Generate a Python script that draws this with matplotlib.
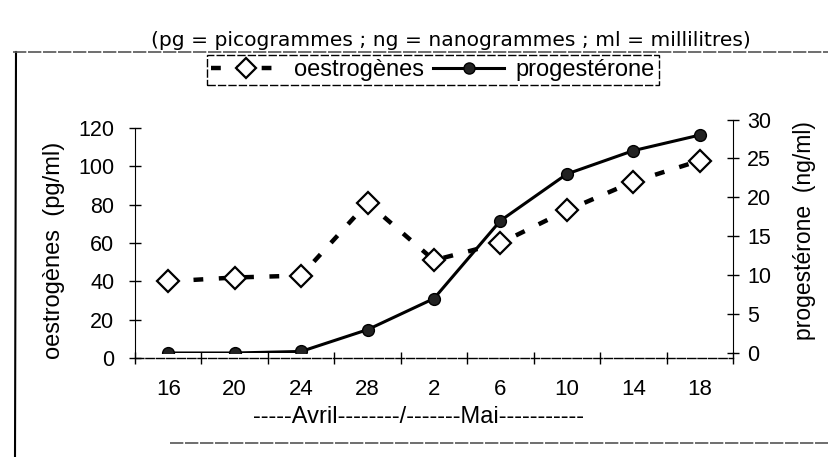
import matplotlib
matplotlib.use("Agg")
import matplotlib.pyplot as plt
from matplotlib.lines import Line2D

categories = ["16", "20", "24", "28", "2", "6", "10", "14", "18"]
oestrogenes = [40, 42, 43, 81, 51, 60, 77, 92, 103]
progesterone = [0, 0, 0.2, 3, 7, 17, 23, 26, 28]
left_ticks = [0, 20, 40, 60, 80, 100, 120]
right_ticks = [0, 5, 10, 15, 20, 25, 30]

plt.rcParams['font.family'] = ['Liberation Sans', 'DejaVu Sans']

W, H = 829, 457
fig = plt.figure(figsize=(W / 100, H / 100), dpi=100)

ax = fig.add_axes([135 / W, 1 - 358 / H, (733 - 135) / W, (358 - 128) / H])
ax2 = fig.add_axes([135 / W, 1 - 353 / H, (733 - 135) / W, (353 - 119.5) / H], sharex=ax)
ax2.patch.set_visible(False)
ax2.yaxis.tick_right()
ax2.yaxis.set_label_position('right')

x = list(range(len(categories)))

ax.plot(x, oestrogenes, color='black', lw=3.2, linestyle=(0, (2.2, 3.5)),
        marker='D', markersize=11.5, markerfacecolor='white', markeredgecolor='black',
        markeredgewidth=1.6, zorder=3)
ax2.plot(x, progesterone, color='black', lw=2.2, marker='o', markersize=8.5,
         markerfacecolor='#222222', markeredgecolor='black', zorder=4)

ax.set_xlim(-0.5, len(categories) - 0.5)
ax.set_ylim(0, 120)
ax2.set_ylim(0, 30)
ax.set_yticks(left_ticks)
ax2.set_yticks(right_ticks)

# category boundaries as ticks, labels at centres
ax.set_xticks([i - 0.5 for i in range(len(categories) + 1)])
ax.set_xticklabels([])
ax.set_xticks(x, minor=True)
ax.set_xticklabels(categories, minor=True)
ax.tick_params(axis='x', which='major', direction='inout', length=8, width=1)
ax.tick_params(axis='x', which='minor', length=0, pad=15, labelsize=16)
ax.tick_params(axis='y', direction='inout', length=8, width=1, labelsize=15.5, pad=11)
ax2.tick_params(axis='y', direction='inout', length=8, width=1, labelsize=15.5, pad=6)
ax2.tick_params(axis='x', which='both', bottom=False, labelbottom=False)

for sp in ('top', 'right'):
    ax.spines[sp].set_visible(False)
for sp in ('top', 'left', 'bottom'):
    ax2.spines[sp].set_visible(False)
ax.spines['bottom'].set_linestyle((0, (6, 1.5)))
ax.spines['bottom'].set_linewidth(1)

fig.text(54 / W, 1 - 250 / H, "oestrogènes  (pg/ml)", rotation=90,
         ha='center', va='center', fontsize=17)
fig.text(805 / W, 1 - 231 / H, "progestérone  (ng/ml)", rotation=90,
         ha='center', va='center', fontsize=16.5)
fig.text(419 / W, 1 - 417 / H, "-----Avril--------/-------Mai-----------",
         ha='center', va='center', fontsize=17)

fig.text(451 / W, 1 - 40 / H, "(pg = picogrammes ; ng = nanogrammes ; ml = millilitres)",
         ha='center', va='center', fontsize=14.6, family=['DejaVu Sans'])

# outer frame lines
fig.add_artist(Line2D([15 / W, 16 / W], [0, 1 - 52 / H], transform=fig.transFigure,
                      color='black', lw=1.5))
fig.add_artist(Line2D([13 / W, 1], [1 - 52 / H, 1 - 52 / H], transform=fig.transFigure,
                      color='#555555', lw=1.2, linestyle=(0, (8, 1))))
fig.add_artist(Line2D([170 / W, 1], [1 - 443 / H, 1 - 443 / H], transform=fig.transFigure,
                      color='#555555', lw=1.2, linestyle=(0, (8, 1))))

handles = [
    Line2D([], [], color='black', lw=3.2, linestyle=(0, (2.2, 3.5)), marker='D',
           markersize=10, markerfacecolor='white', markeredgecolor='black', markeredgewidth=1.6),
    Line2D([], [], color='black', lw=2.2, marker='o', markersize=8,
           markerfacecolor='#222222', markeredgecolor='black'),
]
leg = fig.legend(handles, ["oestrogènes", "progestérone"], loc='center',
                 bbox_to_anchor=(433 / W, 1 - 70 / H), ncol=2, fontsize=17,
                 frameon=True, fancybox=False, edgecolor='black', framealpha=1,
                 handlelength=3, columnspacing=0.4, handletextpad=0.5,
                 borderpad=0.15, borderaxespad=0)
leg.get_frame().set_linewidth(1)
leg.get_frame().set_linestyle((0, (6, 1.5)))

fig.savefig("out.png", dpi=100)
